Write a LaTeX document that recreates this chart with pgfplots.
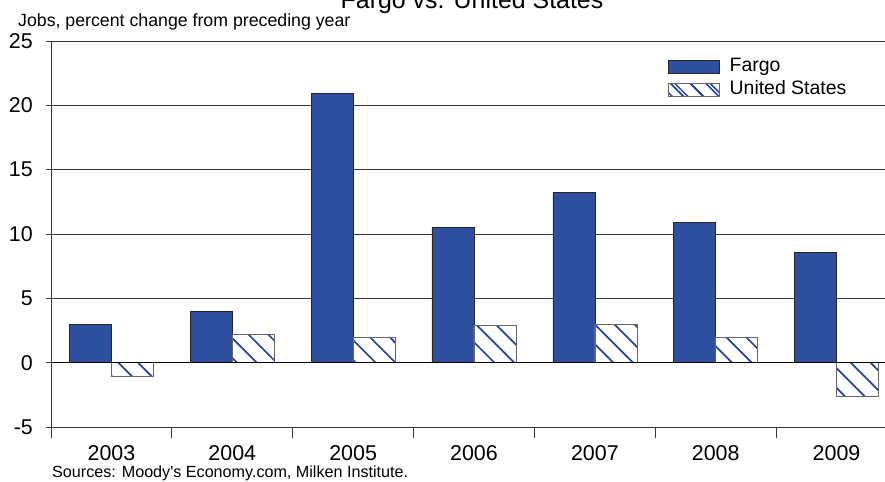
\documentclass[border=0pt]{standalone}
\usepackage{pgfplots}
\pgfplotsset{compat=1.18}
\usepackage{fontspec}
\setmainfont{Liberation Sans}[Ligatures=TeXOff]
\usetikzlibrary{patterns.meta}
\definecolor{fargoblue}{RGB}{46,79,160}
\definecolor{hatchblue}{RGB}{36,68,165}
\definecolor{gridgray}{RGB}{55,55,55}

\pgfplotstableread{
x  fargo  us
0  3.0   -1.1
1  4.0    2.2
2  20.9   2.0
3  10.5   2.9
4  13.2   3.0
5  10.9   2.0
6  8.6   -2.6
}\jobsdata

\begin{document}
\begin{tikzpicture}
\path[use as bounding box, clip] (-51bp,-55bp) rectangle (834bp,427bp);
\begin{axis}[
  scale only axis, width=846bp, height=386bp,
  at={(0,0)}, anchor=south west,
  xmin=-0.5, xmax=6.5, ymin=-5, ymax=25,
  enlargelimits=false,
  axis lines=left,
  axis line style={-, gridgray, line width=0.9bp},
  ybar=0pt, bar width=42bp,
  ytick={-5,0,5,10,15,20,25},
  yticklabels={-5,0,5,10,15,20,25},
  ymajorgrids,
  major grid style={gridgray, line width=0.9bp},
  xtick={-0.5,0.5,1.5,2.5,3.5,4.5,5.5,6.5},
  xticklabels={2003,2004,2005,2006,2007,2008,2009},
  x tick label as interval,
  tick align=outside,
  major tick length=5bp,
  xtick style={gridgray, line width=0.9bp, /pgfplots/major tick length=11bp},
  ytick style={gridgray, line width=0.9bp},
  ticklabel style={font=\fontsize{21.5}{24}\selectfont},
  xticklabel style={anchor=base, yshift=-28bp},
  yticklabel style={anchor=east, inner sep=0pt, xshift=-13bp},
  legend style={draw=none, fill=none, inner sep=0pt,
    at={(axis description cs:0.7281,0.9567)}, anchor=north west,
    font=\fontsize{19.5}{22}\selectfont,
    nodes={inner sep=0pt, text height=14bp, text depth=4bp},
    row sep=5bp,
    /tikz/every odd column/.append style={column sep=10bp}},
  legend cell align=left,
]
\addplot[draw=black!85, fill=fargoblue, line width=0.7bp,
  legend image code/.code={\draw[draw=black!85, fill=fargoblue, line width=0.7bp] (0bp,-6.5bp) rectangle (51bp,6.5bp);}]
  table[x=x, y=fargo] {\jobsdata};
\addlegendentry{Fargo}
\addplot[draw=black!60, fill=white, line width=0.7bp,
  postaction={pattern={Lines[angle=-45, distance=14bp, line width=1.7bp]}, pattern color=hatchblue},
  legend image code/.code={\draw[draw=black!60, fill=white, line width=0.7bp,
    postaction={pattern={Lines[angle=-45, distance=11bp, line width=1.5bp]}, pattern color=hatchblue}] (0bp,-6.5bp) rectangle (51bp,6.5bp);}]
  table[x=x, y=us] {\jobsdata};
\addlegendentry{United States}
\draw[black, line width=1.1bp] (axis cs:-0.5,0) -- (axis cs:6.5,0);
\end{axis}
\node[anchor=base, font=\fontsize{25}{28}\selectfont] at (421bp,418bp) {Fargo vs. United States};
\node[anchor=base west, inner sep=0pt, font=\fontsize{17.8}{20}\selectfont] at (-33bp,400bp) {Jobs, percent change from preceding year};
\node[anchor=base west, inner sep=0pt, font=\fontsize{16.2}{18}\selectfont] at (1bp,-50.5bp) {Sources: Moody's Economy.com, Milken Institute.};
\end{tikzpicture}
\end{document}
